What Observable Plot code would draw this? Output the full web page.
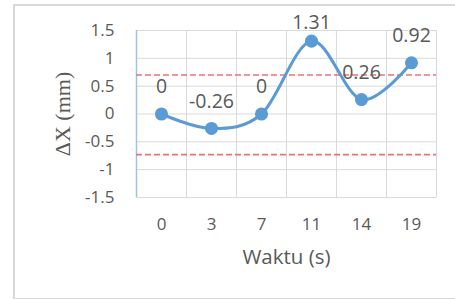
<!DOCTYPE html>
<html>
<head>
<meta charset="utf-8">
<script src="https://cdn.jsdelivr.net/npm/d3@7"></script>
<script src="https://cdn.jsdelivr.net/npm/@observablehq/plot@0.6"></script>
<style>
  html, body { margin: 0; padding: 0; background: #fff; overflow: hidden; }
  #wrap { position: relative; width: 455px; height: 299px; }
  #border { position: absolute; left: 13px; top: 4px; width: 460px; height: 292px; border: 2px solid #d9d9d9; pointer-events: none; }
</style>
</head>
<body>
<div id="wrap"><div id="chart"></div><div id="border"></div></div>
<script>
const times = ["0", "3", "7", "11", "14", "19"];
const deltaX = [0, -0.26, 0, 1.31, 0.26, 0.92];
const labels = ["0", "-0.26", "0", "1.31", "0.26", "0.92"];
const yTicks = [-1.5, -1, -0.5, 0, 0.5, 1, 1.5];
const limits = [0.7, -0.73];
const xTitle = "Waktu (s)";
const yTitle = "ΔX (mm)";

const data = times.map((t, i) => ({t, v: deltaX[i], label: labels[i]}));
const blue = "#5b9bd5";
const grid = "#d9d9d9";
const textColor = "#595959";

const chart = Plot.plot({
  width: 455,
  height: 299,
  marginLeft: 136,
  marginRight: 19,
  marginTop: 30,
  marginBottom: 102,
  style: {fontFamily: "'Open Sans', sans-serif", fontSize: "17px", color: textColor, background: "transparent"},
  x: {type: "point", domain: times, padding: 0.5},
  y: {domain: [-1.5, 1.5]},
  marks: [
    Plot.gridY(yTicks, {stroke: grid, strokeOpacity: 1}),
    Plot.ruleX(times, {stroke: grid, dx: 25}),
    Plot.ruleX([times[0]], {stroke: "#9dc3e6", strokeWidth: 1.5, dx: -25}),
    Plot.ruleY(limits, {stroke: "#e8737b", strokeWidth: 1.6, strokeDasharray: "6,3"}),
    Plot.axisY(yTicks, {tickSize: 0, tickPadding: 22, tickFormat: d => String(d), label: null, fill: textColor}),
    Plot.axisX({tickSize: 0, tickPadding: 20, label: null, fill: textColor}),
    Plot.line(data, {x: "t", y: "v", stroke: blue, strokeWidth: 3, curve: "cardinal"}),
    Plot.dot(data, {x: "t", y: "v", r: 5.8, fill: blue, stroke: blue}),
    Plot.text(data, {filter: d => d.v <= 1.2, x: "t", y: "v", text: "label", dy: -27, fontSize: 19.5, fill: textColor}),
    Plot.text(data, {filter: d => d.v > 1.2, x: "t", y: "v", text: "label", dy: -18, fontSize: 19.5, fill: textColor}),
    Plot.text([xTitle], {frameAnchor: "bottom", textAnchor: "middle", lineAnchor: "middle", dy: 60, fontSize: 20.5, fill: textColor}),
    Plot.text([yTitle], {frameAnchor: "left", textAnchor: "middle", lineAnchor: "middle", dx: -74, rotate: -90, fontSize: 22, fill: textColor, fontFamily: "'Liberation Serif', serif"})
  ]
});
document.getElementById("chart").appendChild(chart);
</script>
</body>
</html>
